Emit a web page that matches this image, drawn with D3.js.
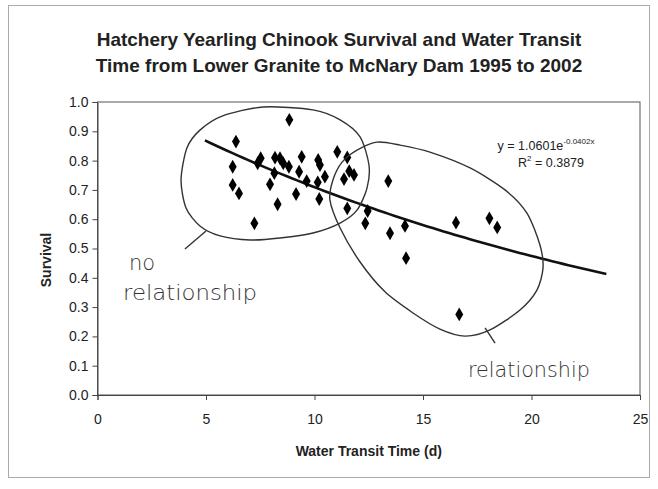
<!DOCTYPE html>
<html>
<head>
<meta charset="utf-8">
<script src="https://cdn.jsdelivr.net/npm/d3@7"></script>
<style>
  body { margin: 0; background: #fff; }
  text { font-family: "Liberation Sans", Arial, sans-serif; fill: #222; }
  .axis path, .axis line { stroke: #444; }
  .axis text { font-size: 14px; fill: #222; }
  .hand { font-family: "DejaVu Sans", sans-serif; font-weight: 200; font-size: 21px; fill: #333; }
</style>
</head>
<body>
<div id="graph"></div>
<script>
// transit time (d) and survival
var transit = [8.84, 6.38, 6.23, 6.23, 6.52, 7.23, 7.52, 7.38, 7.95, 8.18,
               8.41, 8.15, 8.56, 8.82, 8.30, 9.15, 9.29, 9.41, 9.64, 10.17,
               10.25, 10.15, 10.22, 10.48, 11.05, 11.51, 11.36, 11.60, 11.82, 11.51,
               12.45, 12.34, 13.40, 13.48, 14.17, 14.22, 16.52, 16.67, 18.06, 18.42];
var survival = [0.939, 0.865, 0.779, 0.717, 0.688, 0.586, 0.808, 0.791, 0.719, 0.810,
                0.808, 0.757, 0.791, 0.779, 0.651, 0.686, 0.762, 0.813, 0.730, 0.802,
                0.785, 0.726, 0.669, 0.745, 0.830, 0.811, 0.737, 0.764, 0.751, 0.637,
                0.628, 0.586, 0.730, 0.552, 0.577, 0.467, 0.588, 0.275, 0.603, 0.572];

// exponential trendline y = a * exp(b x)
var trendA = 1.0601, trendB = -0.0402;
var trendRange = [4.95, 23.6];

var xTicks = [0, 5, 10, 15, 20, 25];
var yTicks = [0, 0.1, 0.2, 0.3, 0.4, 0.5, 0.6, 0.7, 0.8, 0.9, 1.0];

var titleLines = ["Hatchery Yearling Chinook Survival and Water Transit",
                  "Time from Lower Granite to McNary Dam 1995 to 2002"];

// hand drawn loops, in data units
var loopNoRel = [[7.63, 0.983], [9.93, 0.973], [11.18, 0.939], [12.10, 0.881], [12.51, 0.785],
                 [12.42, 0.706], [11.96, 0.631], [11.18, 0.587], [9.93, 0.553], [8.41, 0.536],
                 [7.03, 0.529], [5.65, 0.543], [4.72, 0.577], [4.08, 0.638], [3.85, 0.734],
                 [4.12, 0.843], [4.72, 0.904], [5.74, 0.952]];
var tailNoRel = [[5.0, 0.560], [4.03, 0.498]];
var loopRel = [[11.96, 0.836], [12.88, 0.863], [13.94, 0.853], [15.32, 0.829], [17.17, 0.775],
               [18.78, 0.700], [19.79, 0.621], [20.39, 0.512], [20.53, 0.433], [20.25, 0.358],
               [19.47, 0.290], [18.09, 0.222], [16.94, 0.201], [15.78, 0.225], [14.54, 0.280],
               [13.25, 0.352], [12.10, 0.454], [11.18, 0.570], [10.71, 0.666], [10.85, 0.734],
               [11.27, 0.795]];
var tailRel = [[17.86, 0.229], [18.32, 0.177]];

var margin = {top: 102, right: 18, bottom: 94, left: 97.5},
    width = 658 - margin.left - margin.right,
    height = 489 - margin.top - margin.bottom;

var x = d3.scaleLinear().domain([0, 25]).range([0, width]);
var y = d3.scaleLinear().domain([0, 1]).range([height, 0]);

var root = d3.select("#graph").append("svg")
    .attr("width", 658)
    .attr("height", 489);

// outer chart border
root.append("rect")
    .attr("x", 8.5).attr("y", 5.5)
    .attr("width", 641).attr("height", 472)
    .style("fill", "#fff")
    .style("stroke", "#aaa");

root.selectAll(".title")
    .data(titleLines)
  .enter().append("text")
    .attr("class", "title")
    .attr("x", 339)
    .attr("y", function(d, i) { return 46 + i * 26; })
    .style("text-anchor", "middle")
    .style("font-size", "19px")
    .style("font-weight", "bold")
    .text(function(d) { return d; });

var svg = root.append("g")
    .attr("transform", "translate(" + margin.left + "," + margin.top + ")");

svg.append("rect")
    .attr("width", width).attr("height", height)
    .style("fill", "none")
    .style("stroke", "#555");

svg.append("g")
    .attr("class", "x axis")
    .attr("transform", "translate(0," + height + ")")
    .call(d3.axisBottom(x).tickValues(xTicks).tickSize(5).tickPadding(14).tickFormat(d3.format("d")));

svg.append("g")
    .attr("class", "y axis")
    .call(d3.axisLeft(y).tickValues(yTicks).tickSize(5).tickPadding(4).tickFormat(d3.format(".1f")));

svg.append("text")
    .attr("x", width / 2)
    .attr("y", height + 61)
    .style("text-anchor", "middle")
    .style("font-size", "14px")
    .style("font-weight", "bold")
    .text("Water Transit Time (d)");

svg.append("text")
    .attr("transform", "rotate(-90)")
    .attr("x", -158)
    .attr("y", -47)
    .style("text-anchor", "middle")
    .style("font-size", "14px")
    .style("font-weight", "bold")
    .text("Survival");

// trendline
var trendPts = d3.range(trendRange[0], trendRange[1] + 0.001, 0.25).map(function(t) {
  return [t, trendA * Math.exp(trendB * t)];
});
svg.append("path")
    .datum(trendPts)
    .attr("d", d3.line().x(function(d) { return x(d[0]); }).y(function(d) { return y(d[1]); }))
    .style("fill", "none")
    .style("stroke", "#111")
    .style("stroke-width", 2.6);

svg.selectAll(".dot")
    .data(transit)
  .enter().append("path")
    .attr("class", "dot")
    .attr("transform", function(d, i) { return "translate(" + x(d) + "," + y(survival[i]) + ")"; })
    .attr("d", d3.symbol().type(d3.symbolDiamond).size(55))
    .style("fill", "#000");

// equation
var eq = svg.append("text")
    .attr("x", x(20.67))
    .attr("y", y(0.836))
    .style("text-anchor", "middle")
    .style("font-size", "12.5px");
eq.append("tspan").text("y = 1.0601e");
eq.append("tspan").attr("dy", -6).style("font-size", "8px").text("-0.0402x");

var r2 = svg.append("text")
    .attr("x", x(20.9))
    .attr("y", y(0.778))
    .style("text-anchor", "middle")
    .style("font-size", "12.5px");
r2.append("tspan").text("R");
r2.append("tspan").attr("dy", -6).style("font-size", "8px").text("2");
r2.append("tspan").attr("dy", 6).text(" = 0.3879");

// hand annotations
var loop = d3.line()
    .x(function(d) { return x(d[0]); })
    .y(function(d) { return y(d[1]); })
    .curve(d3.curveCardinalClosed.tension(0.2));
var stroke = d3.line()
    .x(function(d) { return x(d[0]); })
    .y(function(d) { return y(d[1]); });

[loopNoRel, loopRel].forEach(function(l) {
  svg.append("path").attr("d", loop(l))
      .style("fill", "none").style("stroke", "#333").style("stroke-width", 1.4);
});
[tailNoRel, tailRel].forEach(function(l) {
  svg.append("path").attr("d", stroke(l))
      .style("fill", "none").style("stroke", "#333").style("stroke-width", 1.4);
});

svg.append("text").attr("class", "hand").attr("x", x(1.45)).attr("y", y(0.427)).text("no");
svg.append("text").attr("class", "hand").attr("x", x(1.18)).attr("y", y(0.324))
    .attr("textLength", 134).attr("lengthAdjust", "spacingAndGlyphs").text("relationship");
svg.append("text").attr("class", "hand").attr("x", x(17.07)).attr("y", y(0.061))
    .attr("textLength", 122).attr("lengthAdjust", "spacingAndGlyphs").text("relationship");
</script>
</body>
</html>
